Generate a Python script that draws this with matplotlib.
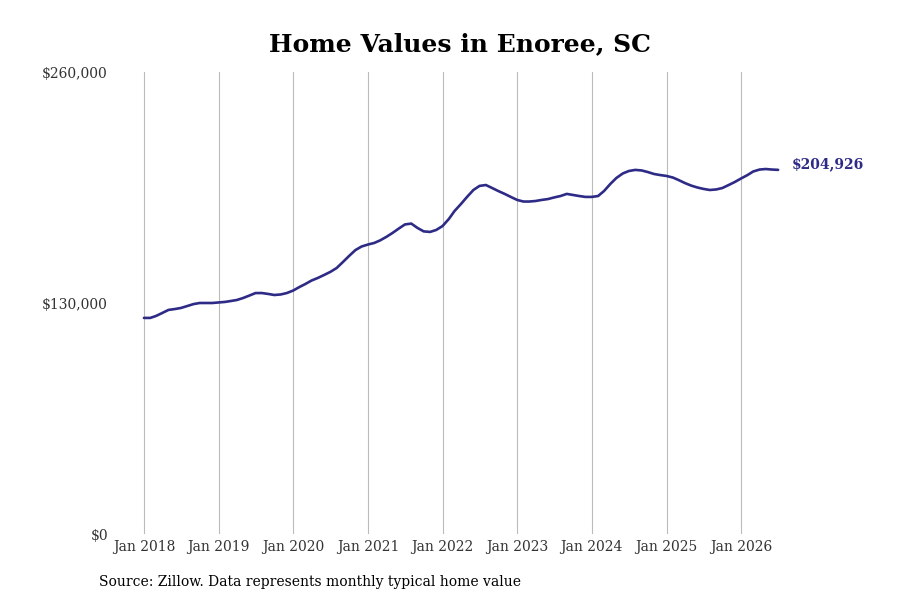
import matplotlib
matplotlib.use("Agg")
import matplotlib.pyplot as plt
import pandas as pd

# valores mensais (milhares de dólares), jan/2018 a jul/2026
valores_mil = [
    121.6, 121.6, 122.7, 124.4, 126.1, 126.6, 127.2, 128.3, 129.4, 130.0, 130.0, 130.0,
    130.3, 130.6, 131.1, 131.7, 132.8, 134.2, 135.6, 135.6, 135.1, 134.5, 134.8, 135.6,
    137.0, 139.0, 140.7, 142.7, 144.1, 145.8, 147.5, 149.7, 153.1, 156.5, 159.8, 161.8,
    162.9, 163.8, 165.2, 167.2, 169.4, 171.9, 174.2, 174.7, 172.2, 170.3, 170.0, 171.1,
    173.3, 177.3, 181.8, 185.7, 189.7, 193.6, 195.9, 196.4, 194.7, 193.0, 191.4, 189.7,
    188.0, 187.1, 187.1, 187.4, 188.0, 188.5, 189.4, 190.2, 191.4, 190.8, 190.2, 189.7,
    189.7, 190.2, 193.0, 197.0, 200.4, 202.9, 204.3, 204.9, 204.6, 203.7, 202.6, 202.0,
    201.5, 200.6, 199.2, 197.5, 196.1, 195.0, 194.2, 193.6, 193.9, 194.7, 196.4, 198.1,
    200.1, 202.0, 204.0, 205.1, 205.4, 205.1, 204.926,
]
datas = pd.date_range("2018-01-01", periods=len(valores_mil), freq="MS")
valores = [v * 1000 for v in valores_mil]

anos_ticks = list(range(2018, 2027))
rotulos_x = [f"Jan {a}" for a in anos_ticks]
ticks_y = [0, 130000, 260000]
rotulos_y = ["$0", "$130,000", "$260,000"]
rotulo_final = "$204,926"

cor_linha = "#2e2b86"

plt.rcParams["font.family"] = "DejaVu Serif"

fig = plt.figure(figsize=(9, 6), dpi=100)
ax = fig.add_axes([110 / 900, 1 - 534 / 600, 690 / 900, 462 / 600])

ax.plot(datas, valores, color=cor_linha, linewidth=1.9, solid_capstyle="round")

ax.set_ylim(0, 260000)
ax.set_yticks(ticks_y)
ax.set_yticklabels(rotulos_y, fontsize=10, color="#333333")

ticks_x = [pd.Timestamp(f"{a}-01-01") for a in anos_ticks]
ax.set_xticks(ticks_x)
ax.set_xticklabels(rotulos_x, fontsize=10, color="#333333")
ax.set_xlim(pd.Timestamp("2018-01-01") - pd.Timedelta(days=166),
            pd.Timestamp("2026-01-01") + pd.Timedelta(days=288))

ax.tick_params(axis="both", length=0)
ax.tick_params(axis="y", pad=1.5)
ax.tick_params(axis="x", pad=4)
ax.grid(axis="x", color="#bbbbbb", linewidth=0.8)
ax.set_axisbelow(True)
for s in ax.spines.values():
    s.set_visible(False)

ax.annotate(rotulo_final, xy=(datas[-1], valores[-1]), xytext=(10, 4),
            textcoords="offset points", fontsize=10, fontweight="bold",
            color=cor_linha, va="center", ha="left")

fig.text(0.511, 1 - 44 / 600, "Home Values in Enoree, SC", fontsize=18,
         fontweight="bold", ha="center", va="center")
fig.text(99 / 900, 1 - 582 / 600, "Source: Zillow. Data represents monthly typical home value",
         fontsize=10, ha="left", va="center")

fig.savefig("out.png", dpi=100)
